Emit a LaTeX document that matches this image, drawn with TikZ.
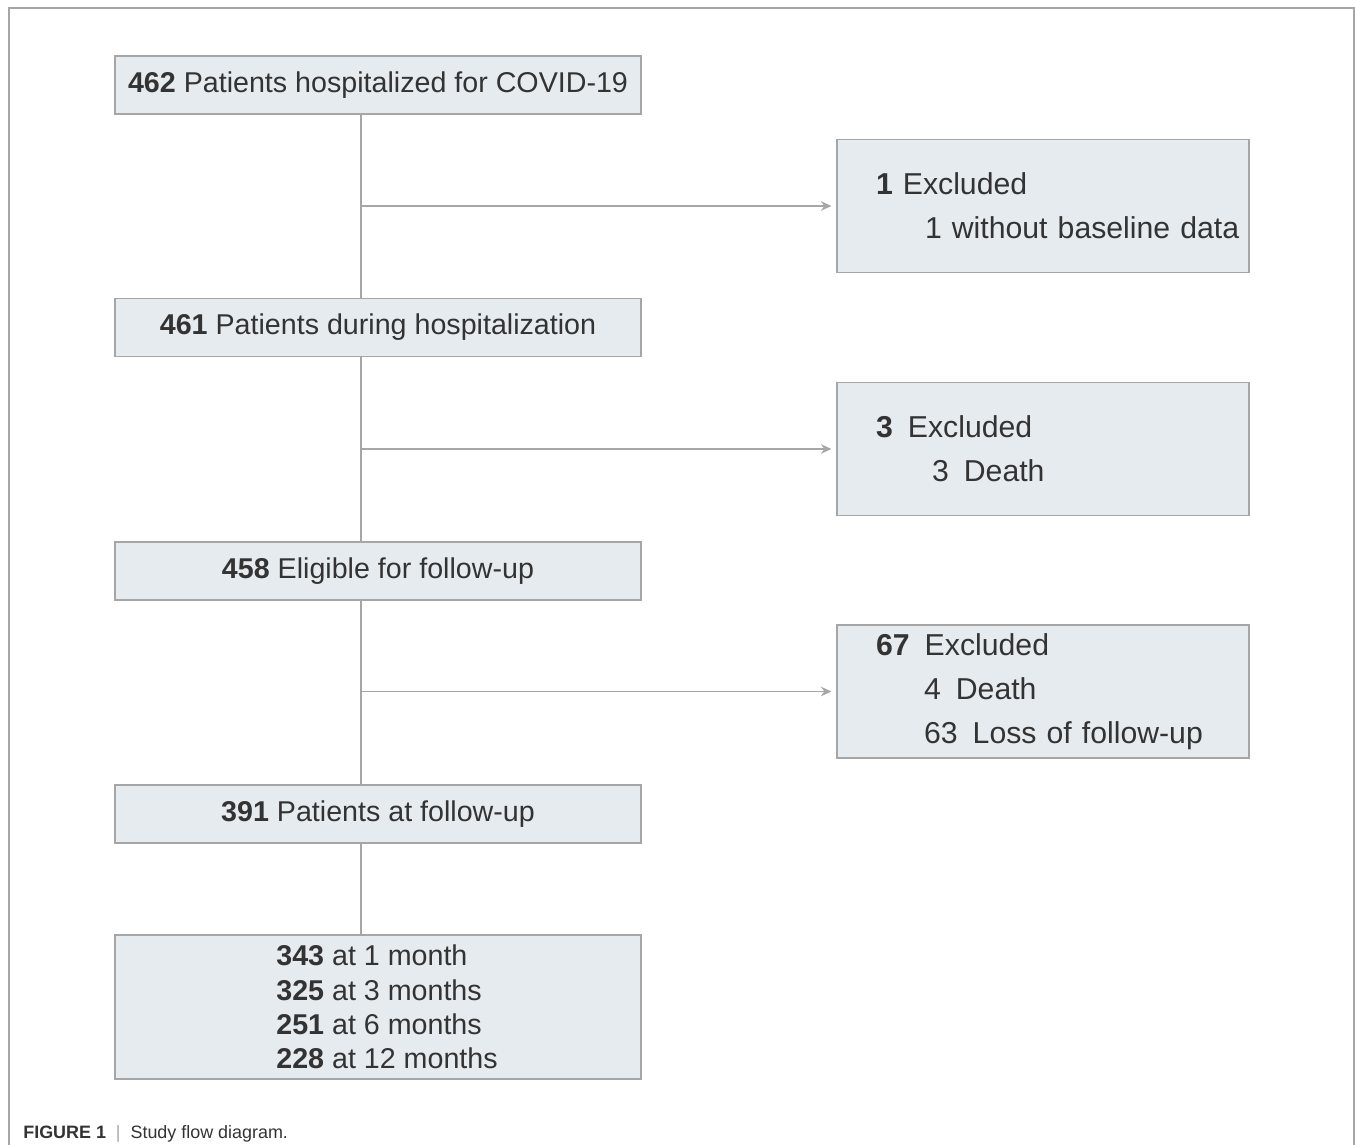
\documentclass[tikz,border=0pt]{standalone}
\usepackage{fontspec}
\setmainfont{Liberation Sans}
\usetikzlibrary{arrows.meta}
\definecolor{bfill}{HTML}{E6EBF0}
\definecolor{bline}{HTML}{A6A6A6}
\definecolor{btext}{HTML}{333333}

\begin{document}
\begin{tikzpicture}[>={Stealth[length=6pt,width=5.4pt]},
   b/.style={draw=bline, fill=bfill, line width=0.6pt, minimum width=10.52cm, minimum height=1.16cm,
             inner sep=0pt, align=center, text=btext, font=\fontsize{16.3}{19.5}\selectfont},
   ex/.style={draw=bline, fill=bfill, line width=0.6pt, minimum height=2.66cm, text width=6.68cm,
              inner xsep=0.78cm, inner ysep=0pt, align=left, text=btext, font=\fontsize{17.2}{25}\selectfont},
   c/.style={draw=bline, line width=1.1pt}]
  \useasboundingbox (0,0) rectangle (27.1,-22.9);
  % frame
  \draw[bline, line width=0.6pt] (0.18,-22.9) -- (0.18,-0.16) -- (27.08,-0.16) -- (27.08,-22.9);
  % main column
  \node[b] (b1) at (7.56,-1.70) {\textbf{462} Patients hospitalized for COVID-19};
  \node[b] (b2) at (7.56,-6.55) {\textbf{461} Patients during hospitalization};
  \node[b] (b3) at (7.56,-11.42) {\textbf{458} Eligible for follow-up};
  \node[b] (b4) at (7.56,-16.28) {\textbf{391} Patients at follow-up};
  \node[b, minimum height=2.88cm, align=left] (b5) at (7.56,-20.14)
     {\hspace*{0.36cm}\textbf{343} at 1 month\\\hspace*{0.36cm}\textbf{325} at 3 months\\
      \hspace*{0.36cm}\textbf{251} at 6 months\\\hspace*{0.36cm}\textbf{228} at 12 months};
  % exclusions
  \node[ex] (e1) at (20.86,-4.12) {\textbf{1} Excluded\\\mbox{\hspace*{0.98cm}1 without baseline data}};
  \node[ex] (e2) at (20.86,-8.98) {\textbf{3}\, Excluded\\\hspace*{1.12cm}3\, Death};
  \node[ex] (e3) at (20.86,-13.83) {\textbf{67}\, Excluded\\\hspace*{0.96cm}4\, Death\\\mbox{\hspace*{0.96cm}63\, Loss of follow-up}};
  \coordinate (j1) at (7.22,-4.12);
  \coordinate (j2) at (7.22,-8.98);
  \coordinate (j3) at (7.22,-13.83);
  % connectors
  \draw[c] (b1.south -| j1) -- (b2.north -| j1);
  \draw[c] (b2.south -| j2) -- (b3.north -| j2);
  \draw[c] (b3.south -| j3) -- (b4.north -| j3);
  \draw[c] (b4.south -| j3) -- (b5.north -| j3);
  \draw[c,->,shorten >=0.1cm] (j1) -- (e1);
  \draw[c,->,shorten >=0.1cm] (j2) -- (e2);
  \draw[c,->,shorten >=0.1cm] (j3) -- (e3);
  % caption
  \node[anchor=base west, inner sep=0pt, text=btext, font=\fontsize{10.2}{12}\selectfont] (cap) at (0.46,-22.76)
     {\textbf{FIGURE 1}\; {\color{bline}|}\; Study flow diagram.};
\end{tikzpicture}
\end{document}
